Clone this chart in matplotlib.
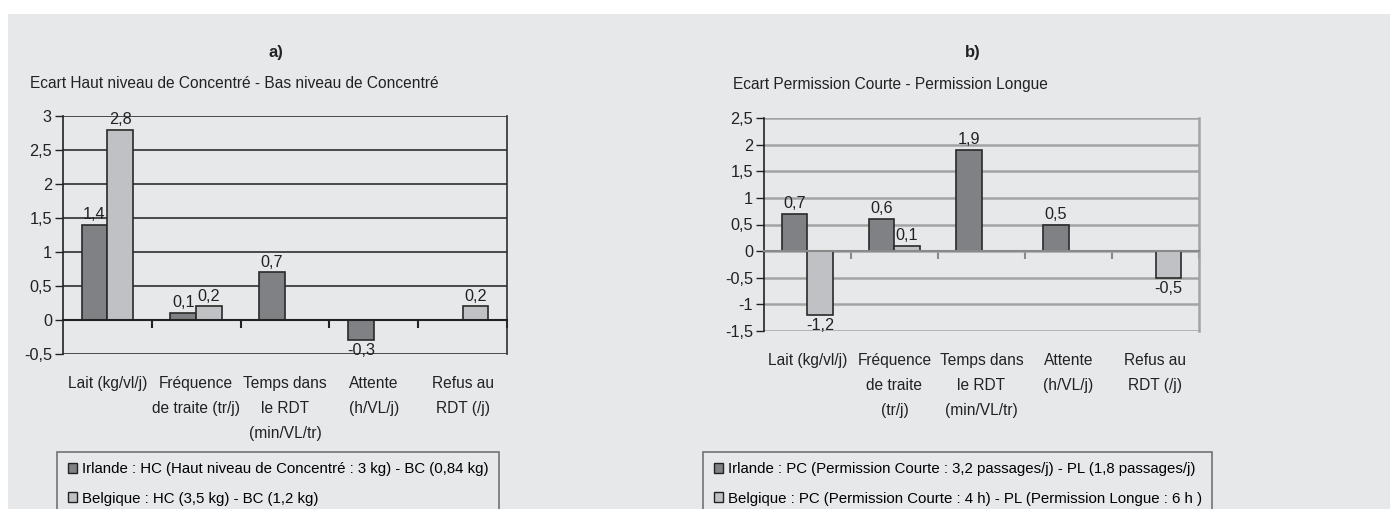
import matplotlib.pyplot as plt
from matplotlib.patches import Rectangle
from matplotlib.ticker import FuncFormatter

# font: Arial Narrow look-alike is not installed, so a smaller Liberation Sans
plt.rcParams['font.family'] = ['Liberation Sans', 'DejaVu Sans']

# data
cats_a = ["Lait (kg/vl/j)", "Fréquence\nde traite (tr/j)", "Temps dans\nle RDT\n(min/VL/tr)",
          "Attente\n(h/VL/j)", "Refus au\nRDT (/j)"]
irl_a = [1.4, 0.1, 0.7, -0.3, None]
bel_a = [2.8, 0.2, None, None, 0.2]

cats_b = ["Lait (kg/vl/j)", "Fréquence\nde traite\n(tr/j)", "Temps dans\nle RDT\n(min/VL/tr)",
          "Attente\n(h/VL/j)", "Refus au\nRDT (/j)"]
irl_b = [0.7, 0.6, 1.9, 0.5, None]
bel_b = [-1.2, 0.1, None, None, -0.5]

leg_a = ["Irlande : HC (Haut niveau de Concentré : 3 kg) - BC (0,84 kg)",
         "Belgique : HC (3,5 kg) - BC (1,2 kg)"]
leg_b = ["Irlande : PC (Permission Courte : 3,2 passages/j) - PL (1,8 passages/j)",
         "Belgique : PC (Permission Courte : 4 h) - PL (Permission Longue : 6 h )"]

dark = '#808184'
light = '#c0c1c4'
bg = '#e7e8ea'
fs = 11.2
txtc = '#222222'

W, H = 1390, 509
fig = plt.figure(figsize=(W / 100, H / 100), dpi=100)
fig.patch.set_facecolor('white')
fig.patches.append(Rectangle((8 / W, 0), 1, 1 - 14 / H, transform=fig.transFigure,
                             facecolor=bg, edgecolor='none', zorder=-10))


def comma(v, pos=None):
    return f"{v:g}".replace('.', ',')


def panel(rect, cats, irl, bel, ylim, step, gridc, gridw, zeroc, legtxt, legpos):
    ax = fig.add_axes(rect)
    ax.set_facecolor('none')
    n = len(cats)
    w = 0.29
    for vals, off, col, lab in [(irl, -w / 2, dark, legtxt[0]), (bel, w / 2, light, legtxt[1])]:
        xs = [i + off for i, v in enumerate(vals) if v is not None]
        ys = [v for v in vals if v is not None]
        ax.bar(xs, ys, width=w, color=col, edgecolor='#2a2a2a', linewidth=1.2,
               label=lab, zorder=3)
        for x, y in zip(xs, ys):
            ax.annotate(comma(y), (x, y), xytext=(0, 2 if y > 0 else -2),
                        textcoords='offset points', ha='center',
                        va='bottom' if y > 0 else 'top', fontsize=fs + 0.5, color=txtc)
    ax.set_xlim(-0.5, n - 0.5)
    ax.set_ylim(*ylim)
    ticks = []
    t = ylim[0]
    while t <= ylim[1] + 1e-9:
        ticks.append(round(t, 2))
        t += step
    ax.set_yticks(ticks)
    ax.yaxis.set_major_formatter(FuncFormatter(comma))
    ax.grid(axis='y', color=gridc, linewidth=gridw, zorder=1)
    ax.set_axisbelow(True)
    ax.tick_params(axis='y', labelsize=fs + 0.5, length=6, width=1, colors=txtc, pad=2)
    ax.spines['left'].set_color(txtc)
    ax.spines['left'].set_linewidth(1.2)
    ax.spines['top'].set_visible(False)
    ax.spines['right'].set_color(gridc)
    ax.spines['right'].set_linewidth(gridw)
    ax.spines['bottom'].set_position(('data', 0))
    ax.spines['bottom'].set_color(zeroc)
    ax.spines['bottom'].set_linewidth(1.5)
    ax.spines['bottom'].set_zorder(4)
    ax.set_xticks([i + 0.5 for i in range(n)])
    ax.set_xticklabels([])
    ax.tick_params(axis='x', length=6, width=1.5, color=zeroc, direction='out')
    for i, c in enumerate(cats):
        ax.annotate(c, (i, 0), xycoords=ax.get_xaxis_transform(), xytext=(0, -15.5),
                    textcoords='offset points', ha='center', va='top',
                    fontsize=fs, linespacing=1.85, color=txtc)
    leg = ax.legend(loc='upper left', bbox_to_anchor=legpos, bbox_transform=fig.transFigure,
                    fontsize=10.8, frameon=True, fancybox=False, handlelength=0.6,
                    handleheight=0.6, handletextpad=0.35, labelspacing=1.0,
                    borderpad=0.7, borderaxespad=0)
    leg.get_frame().set_edgecolor('#555555')
    leg.get_frame().set_facecolor(bg)
    leg.get_frame().set_linewidth(1.2)
    for h in leg.legend_handles:
        h.set_edgecolor('#222222')
        h.set_linewidth(1.0)
    return ax


panel([63 / W, 1 - 354 / H, 444 / W, 238 / H], cats_a, irl_a, bel_a, (-0.5, 3), 0.5,
      '#2e2e2e', 1.2, '#222222', leg_a, (57 / W, 1 - 452 / H))
panel([764 / W, 1 - 331 / H, 435 / W, 213 / H], cats_b, irl_b, bel_b, (-1.5, 2.5), 0.5,
      '#a3a3a3', 1.8, '#8a8a8a', leg_b, (703 / W, 1 - 452 / H))

fig.text(276 / W, 1 - 52 / H, "a)", ha='center', va='center', fontsize=fs + 0.8,
         fontweight='bold', color=txtc)
fig.text(973 / W, 1 - 52 / H, "b)", ha='center', va='center', fontsize=fs + 0.8,
         fontweight='bold', color=txtc)
fig.text(30 / W, 1 - 84 / H, "Ecart Haut niveau de Concentré - Bas niveau de Concentré",
         ha='left', va='center', fontsize=fs, color=txtc)
fig.text(733 / W, 1 - 84 / H, "Ecart Permission Courte - Permission Longue",
         ha='left', va='center', fontsize=fs, color=txtc)

fig.savefig('out.png', dpi=100)
